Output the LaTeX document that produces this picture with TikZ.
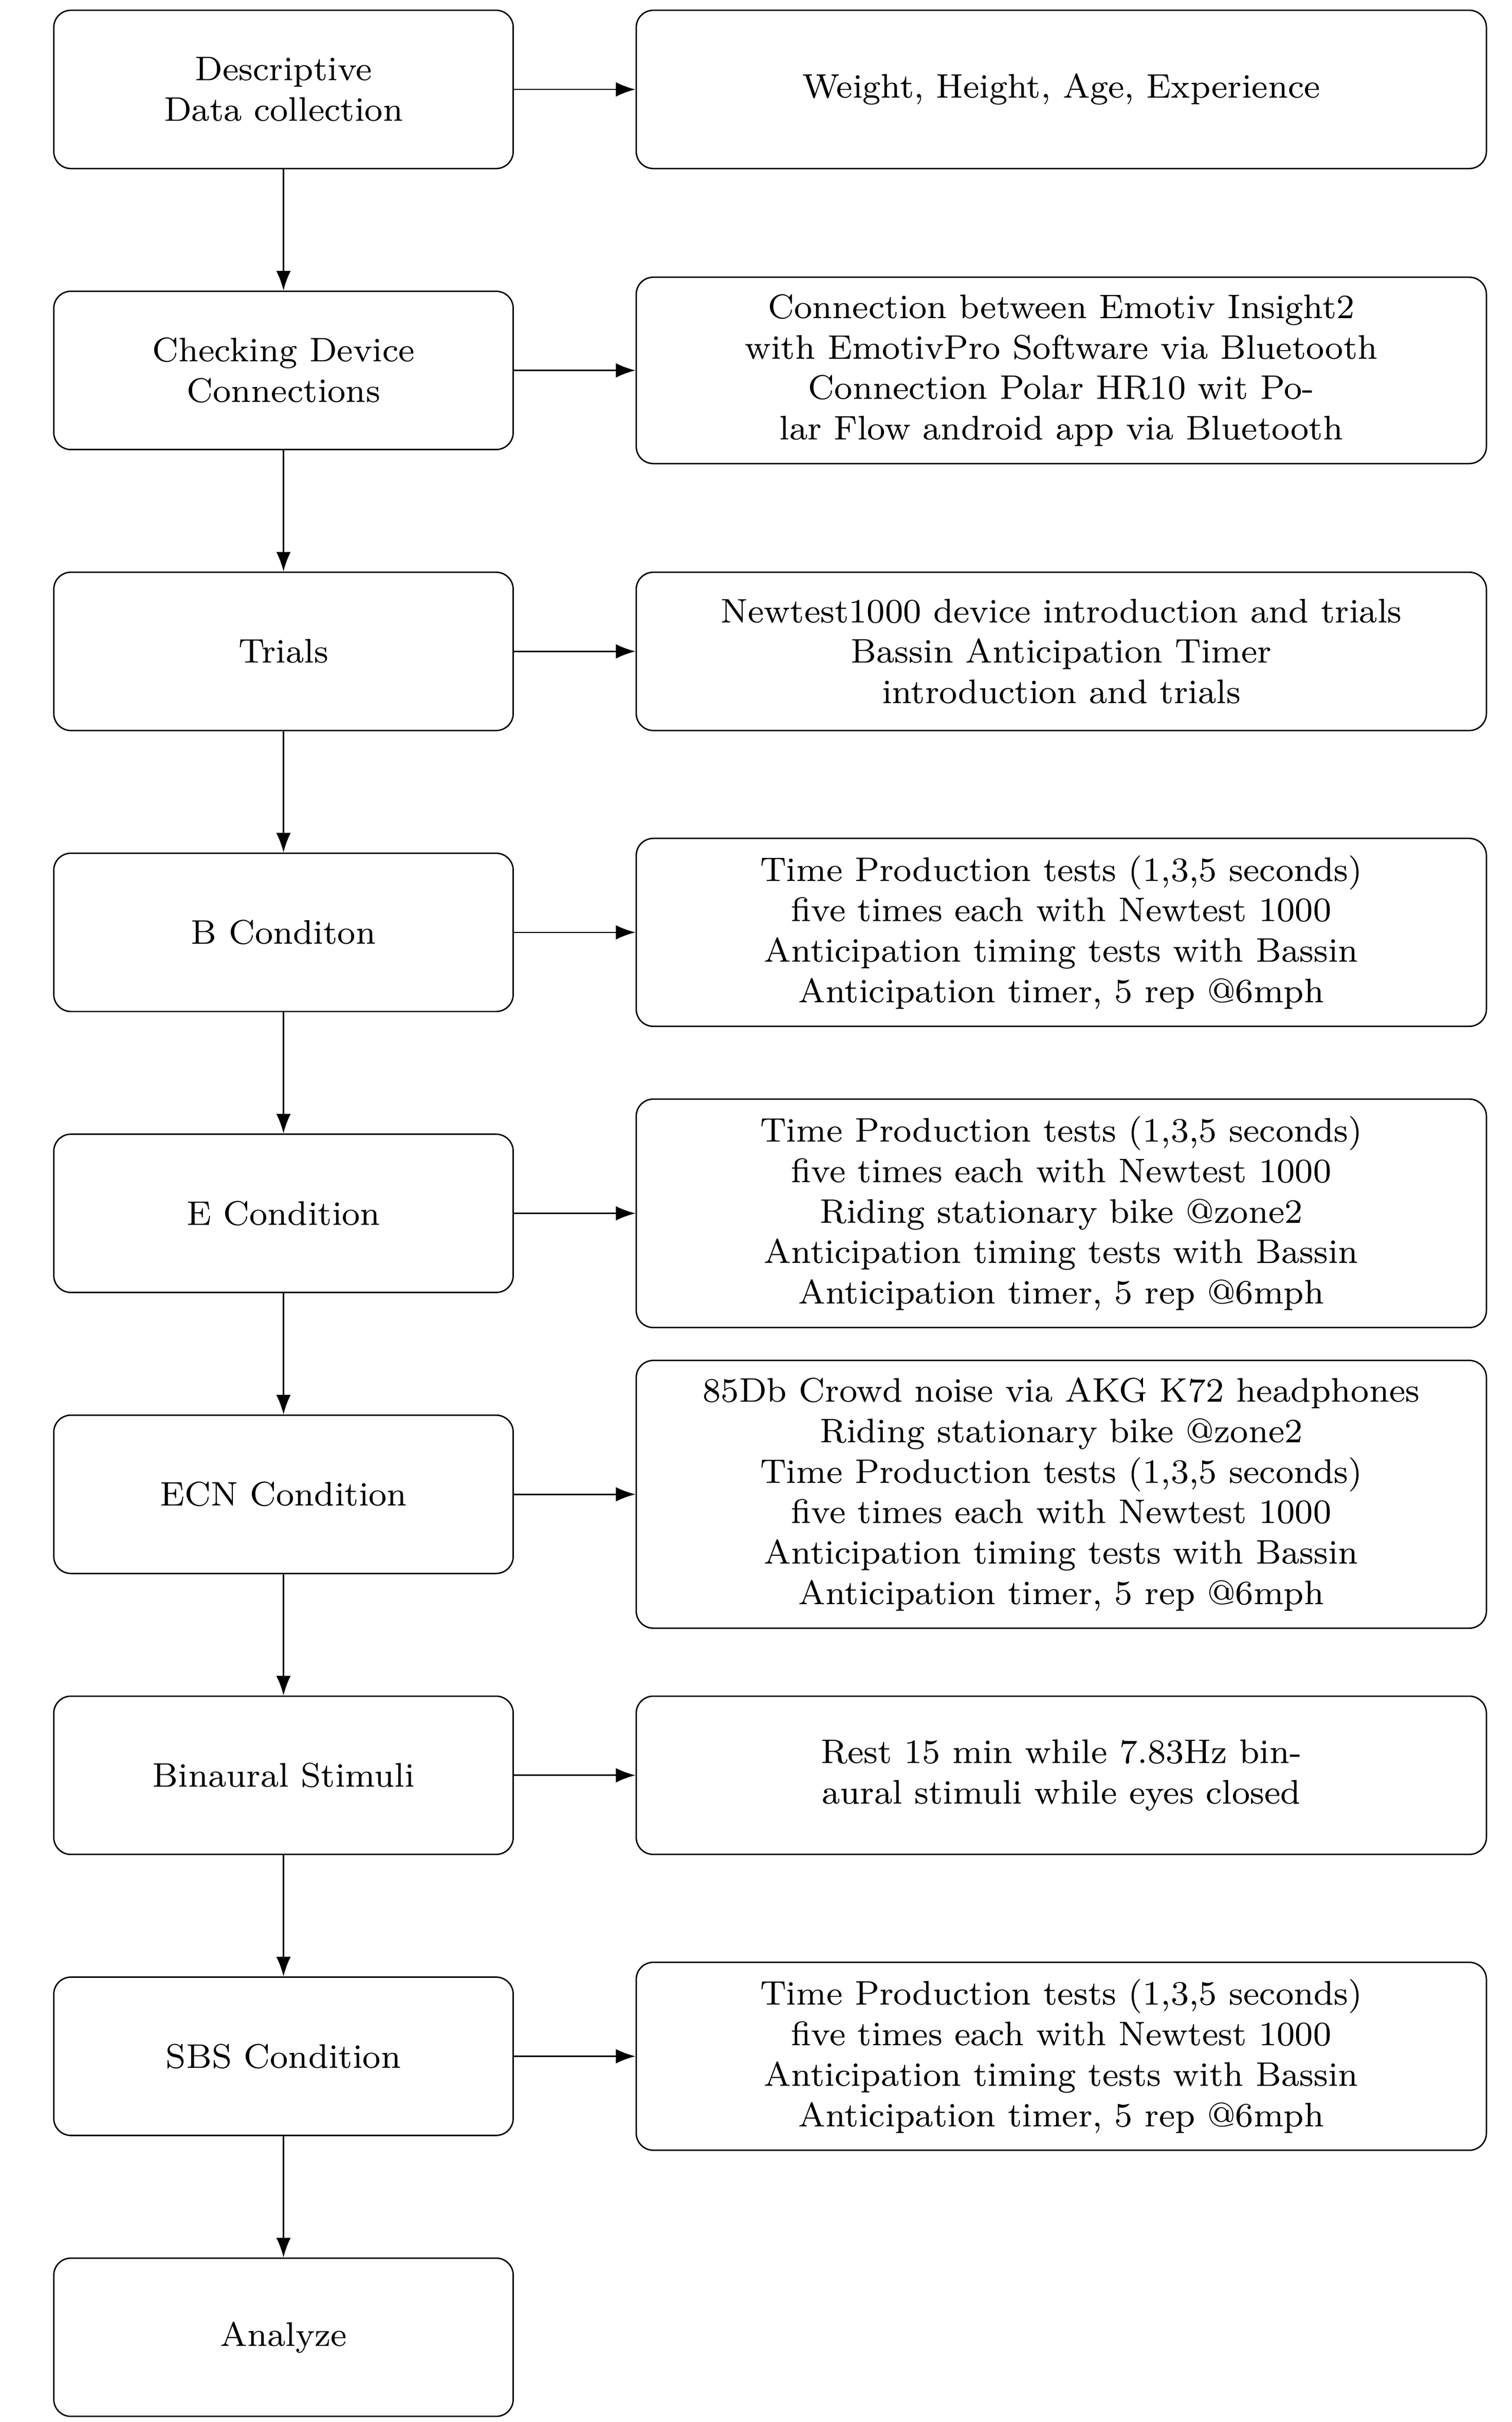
\documentclass[tikz,border=0pt]{standalone}
\usetikzlibrary{arrows.meta}
\begin{document}
\begin{tikzpicture}[
  stepbox/.style={draw, rounded corners=4pt, line width=0.33pt, minimum width=107.7pt,
    minimum height=37.1pt, align=center, font=\footnotesize, inner ysep=4pt},
  infobox/.style={stepbox, minimum width=199.3pt},
  arr/.style={-{Latex[length=4.6pt,width=3.4pt]}, line width=0.33pt}
]
\useasboundingbox (0,0) rectangle (354.34pt,-567.71pt);
\def\lx{66.46pt}
\def\rx{248.8pt}
% left column
\node[stepbox] (s1) at (\lx,-20.96pt) {Descriptive\\Data collection};
\node[stepbox] (s2) at (\lx,-86.82pt) {Checking Device\\Connections};
\node[stepbox] (s3) at (\lx,-152.68pt) {Trials};
\node[stepbox] (s4) at (\lx,-218.54pt) {B Conditon};
\node[stepbox] (s5) at (\lx,-284.40pt) {E Condition};
\node[stepbox] (s6) at (\lx,-350.26pt) {ECN Condition};
\node[stepbox] (s7) at (\lx,-416.12pt) {Binaural Stimuli};
\node[stepbox] (s8) at (\lx,-481.98pt) {SBS Condition};
\node[stepbox] (s9) at (\lx,-547.84pt) {Analyze};
% right column
\node[infobox] (i1) at (\rx,-20.96pt) {Weight, Height, Age, Experience};
\node[infobox] (i2) at (\rx,-86.82pt) {Connection between Emotiv Insight2\\with EmotivPro Software via Bluetooth\\Connection Polar HR10 wit Po-\\lar Flow android app via Bluetooth};
\node[infobox] (i3) at (\rx,-152.68pt) {Newtest1000 device introduction and trials\\Bassin Anticipation Timer\\introduction and trials};
\node[infobox] (i4) at (\rx,-218.54pt) {Time Production tests (1,3,5 seconds)\\five times each with Newtest 1000\\Anticipation timing tests with Bassin\\Anticipation timer, 5 rep @6mph};
\node[infobox] (i5) at (\rx,-284.40pt) {Time Production tests (1,3,5 seconds)\\five times each with Newtest 1000\\Riding stationary bike @zone2\\Anticipation timing tests with Bassin\\Anticipation timer, 5 rep @6mph};
\node[infobox] (i6) at (\rx,-350.26pt) {85Db Crowd noise via AKG K72 headphones\\Riding stationary bike @zone2\\Time Production tests (1,3,5 seconds)\\five times each with Newtest 1000\\Anticipation timing tests with Bassin\\Anticipation timer, 5 rep @6mph};
\node[infobox] (i7) at (\rx,-416.12pt) {Rest 15 min while 7.83Hz bin-\\aural stimuli while eyes closed};
\node[infobox] (i8) at (\rx,-481.98pt) {Time Production tests (1,3,5 seconds)\\five times each with Newtest 1000\\Anticipation timing tests with Bassin\\Anticipation timer, 5 rep @6mph};
% connectors
\foreach \a/\b in {s1/s2,s2/s3,s3/s4,s4/s5,s5/s6,s6/s7,s7/s8,s8/s9}
  \draw[arr] (\a) -- (\b);
\foreach \n in {1,...,8}
  \draw[arr] (s\n) -- (i\n);
\end{tikzpicture}
\end{document}
